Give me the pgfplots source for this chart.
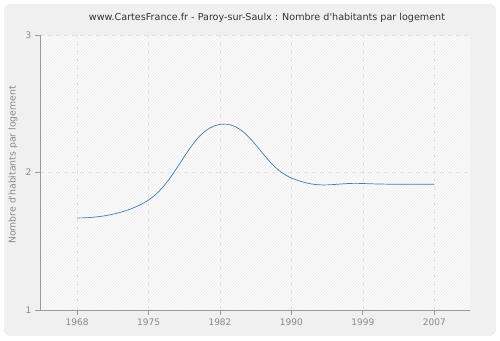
\documentclass[border=0pt]{standalone}
\usepackage{pgfplots}
\pgfplotsset{compat=1.18}
\usepackage{fontspec}
\setmainfont{DejaVu Sans}[Ligatures=TeXOff]
\usetikzlibrary{patterns}
\definecolor{bg}{HTML}{F0F0F0}
\definecolor{plotbg}{HTML}{FCFCFC}
\definecolor{hatch}{HTML}{EDEDED}
\definecolor{gridc}{HTML}{E2E2E2}
\definecolor{axisc}{HTML}{999999}
\definecolor{tickc}{HTML}{888888}
\definecolor{linec}{HTML}{4A78AE}
\begin{document}
\begin{tikzpicture}[x=1pt,y=1pt]
\path[use as bounding box] (0,0) rectangle (500,340);
\draw[draw=black!10, fill=bg, rounded corners=6pt] (4.5,4.5) rectangle (495.5,335.5);
\node[font=\fontsize{9.6}{11}\selectfont, text=black!80] at (267,322) {www.CartesFrance.fr - Paroy-sur-Saulx : Nombre d'habitants par logement};
\node[font=\fontsize{9.3}{10}\selectfont, text=tickc, rotate=90] at (13,175) {Nombre d'habitants par logement};
\begin{axis}[
  at={(40pt,30pt)}, anchor=south west,
  width=430pt, height=275pt, scale only axis,
  xmin=-0.52, xmax=5.5, ymin=1, ymax=3,
  xtick={0,1,2,3,4,5},
  xticklabels={1968,1975,1982,1990,1999,2007},
  ytick={1,2,3},
  axis x line*=bottom, axis y line*=left,
  axis line style={draw=axisc, line width=0.8pt},
  tick align=outside, major tick length=5pt,
  tick style={draw=axisc, line width=0.8pt},
  ticklabel style={font=\fontsize{9}{10}\selectfont, text=tickc},
  /pgf/number format/assume math mode=true,
  grid=major,
  grid style={draw=gridc, dash pattern=on 4pt off 4pt, line width=0.6pt},
  axis background/.style={preaction={fill=plotbg}, pattern=north east lines, pattern color=hatch},
  clip=false,
]
\addplot[color=linec, line width=0.7pt, smooth, tension=0.75] coordinates {
  (0,1.67) (1,1.80) (2,2.35) (3,1.96) (4,1.92) (5,1.915)
};
\end{axis}
\end{tikzpicture}
\end{document}
